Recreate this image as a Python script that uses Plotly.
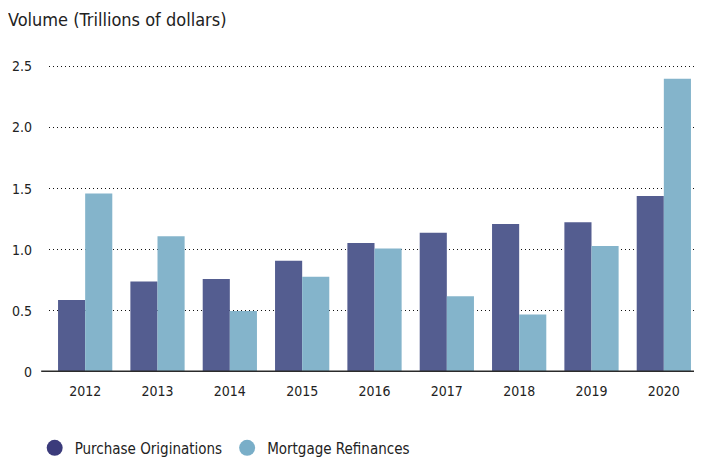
import plotly.graph_objects as go

years = ["2012", "2013", "2014", "2015", "2016", "2017", "2018", "2019", "2020"]
purchase = [0.59, 0.74, 0.76, 0.91, 1.055, 1.14, 1.21, 1.225, 1.44]
refinance = [1.46, 1.11, 0.50, 0.78, 1.01, 0.62, 0.47, 1.03, 2.40]
y_ticks = [0, 0.5, 1.0, 1.5, 2.0, 2.5]
y_labels = ["0", "0.5", "1.0", "1.5", "2.0", "2.5"]

FONT = "DejaVu Sans Condensed, Liberation Sans Narrow, Arial Narrow, sans-serif"
C_P = "#545d90"
C_R = "#84b4cb"

fig = go.Figure()
fig.add_bar(x=years, y=purchase, name="Purchase Originations",
            marker=dict(color=C_P, line=dict(width=0)), showlegend=False)
fig.add_bar(x=years, y=refinance, name="Mortgage Refinances",
            marker=dict(color=C_R, line=dict(width=0)), showlegend=False)
# legend entries with circle symbols
fig.add_scatter(x=[None], y=[None], mode="markers", name="Purchase Originations",
                marker=dict(symbol="circle", size=18, color="#3b3b7b"))
fig.add_scatter(x=[None], y=[None], mode="markers", name="Mortgage Refinances",
                marker=dict(symbol="circle", size=18, color="#79aec8"))

fig.add_shape(type="line", xref="paper", yref="y", x0=-0.012, x1=1.02, y0=0, y1=0,
              line=dict(color="#2b2b2b", width=3), layer="above")

# the page body adds an 8px offset, so the figure is 8px smaller on each axis
fig.update_layout(
    width=694, height=450,
    margin=dict(l=41, r=2, t=56, b=86, autoexpand=False),
    paper_bgcolor="white", plot_bgcolor="white",
    barmode="group", bargap=0.25, bargroupgap=0,
    font=dict(family=FONT, size=14, color="#222"),
    title=dict(text="Volume (Trillions of dollars)", xref="container", yref="container",
               x=0.0, xanchor="left", y=1-12/450, yanchor="middle",
               font=dict(family=FONT, size=18, color="#222")),
    xaxis=dict(showgrid=False, showline=False, ticks="", ticklabelstandoff=9,
               tickfont=dict(size=14, color="#222")),
    yaxis=dict(range=[0, 2.52], tickvals=y_ticks, ticktext=y_labels,
               showgrid=True, gridcolor="#111", gridwidth=1.3, griddash="1px,3px",
               zeroline=False, showline=False, ticks="", ticklabelstandoff=16,
               tickfont=dict(size=14, color="#222")),
    legend=dict(orientation="h", x=-0.022, xanchor="left", y=-0.247, yanchor="middle",
                font=dict(family=FONT, size=15, color="#222"), itemwidth=30,
                tracegroupgap=0),
)

fig.write_html("out.html")
